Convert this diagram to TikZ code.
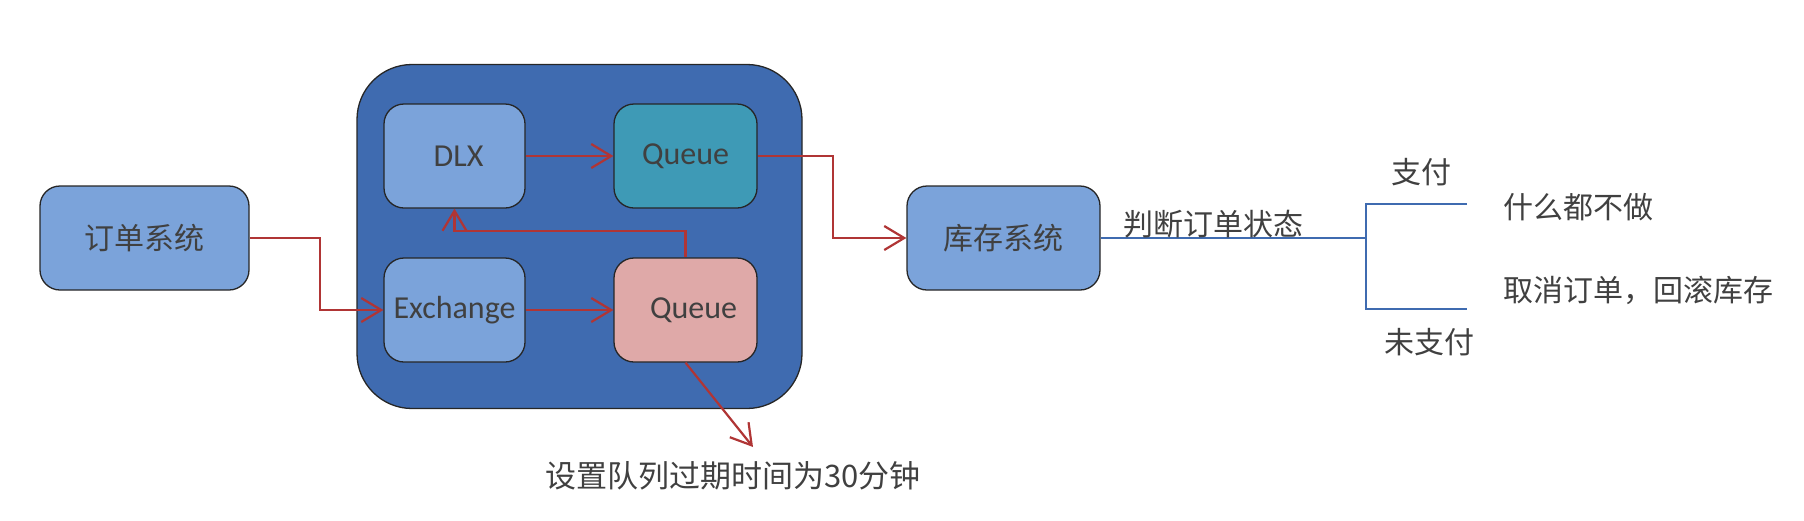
\documentclass[tikz,border=0pt]{standalone}
\usepackage{fontspec}
\setmainfont{Carlito}
\newfontfamily\cjk{Noto Sans CJK SC}
\usetikzlibrary{arrows.meta}
\definecolor{cont}{HTML}{3F6BB0}
\definecolor{lightb}{HTML}{7BA3DA}
\definecolor{teal}{HTML}{3E9AB6}
\definecolor{pink}{HTML}{DFA9A8}
\definecolor{redl}{HTML}{B03535}
\definecolor{bluel}{HTML}{3F6BB0}
\definecolor{txt}{HTML}{404040}
\tikzset{
  box/.style={draw=black!85, line width=1.3pt, rounded corners=20pt, inner sep=0pt, text=txt},
  lbl/.style={inner sep=0pt, text=txt, font=\cjk\fontsize{30}{36}\selectfont},
  rarrow/.style={draw=redl, line width=2.2pt, -{Straight Barb[length=20pt,width=24pt,line width=2.2pt]}},
  bline/.style={draw=bluel, line width=2.2pt}
}
\begin{document}
\begin{tikzpicture}[x=1pt,y=-1pt]
\useasboundingbox (0,0) rectangle (1804,520);
% container
\node[draw=black!85, line width=1.3pt, fill=cont, rounded corners=55pt, minimum width=445pt, minimum height=344pt, inner sep=0pt] (cont) at (579.5,236.5) {};
% boxes
\node[box, fill=lightb, minimum width=209pt, minimum height=104pt, font=\cjk\fontsize{30}{36}\selectfont] (dd) at (144.5,238) {订单系统};
\node[box, fill=lightb, minimum width=141pt, minimum height=104pt, font=\fontsize{32}{38}\selectfont] (dlx) at (454.5,156) {\hspace{8pt}DLX};
\node[box, fill=teal, minimum width=143pt, minimum height=104pt, font=\fontsize{32}{38}\selectfont] (q1) at (685.5,156) {Queue};
\node[box, fill=lightb, minimum width=141pt, minimum height=104pt, font=\fontsize{32}{38}\selectfont] (ex) at (454.5,310) {Exchange};
\node[box, fill=pink, minimum width=143pt, minimum height=104pt, font=\fontsize{32}{38}\selectfont] (q2) at (685.5,310) {\hspace{16pt}Queue};
\node[box, fill=lightb, minimum width=193pt, minimum height=104pt, font=\cjk\fontsize{30}{36}\selectfont] (kc) at (1003.5,238) {库存系统\hspace{24pt}};
% red connectors
\draw[rarrow] (dd.east) -- ++(70,0) |- (ex.west);
\draw[rarrow] (dlx.east) -- (q1.west);
\draw[rarrow] (ex.east) -- (q2.west);
\draw[rarrow] (q2.north) -- ++(0,-26) -| (dlx.south);
\draw[rarrow] (q1.east) -- ++(75,0) |- (kc.west);
\coordinate (tip) at (753,447);
\draw[rarrow] (q2.south) -- (tip);
\node[inner sep=0pt, text=txt, font=\cjk\fontsize{31}{36}\selectfont] (ttl) at (733,476) {设置队列过期时间为30分钟};
% blue decision lines
\coordinate (br) at (1366,238);
\coordinate (bt) at (1366,204);
\coordinate (bb) at (1366,309);
\coordinate (et) at (1467,204);
\coordinate (eb) at (1467,309);
\draw[bline] (kc.east) -- (br);
\draw[bline] (et) -- (bt) -- (bb) -- (eb);
% labels
\node[lbl] (pd) at (1213,224) {判断订单状态};
\node[lbl] (zf) at (1421,172) {支付};
\node[lbl] (wzf) at (1429,342) {未支付};
\node[lbl, anchor=west] (nothing) at (1503,207) {什么都不做};
\node[lbl, anchor=west] (cancel) at (1503,290) {取消订单，回滚库存};
\end{tikzpicture}
\end{document}
